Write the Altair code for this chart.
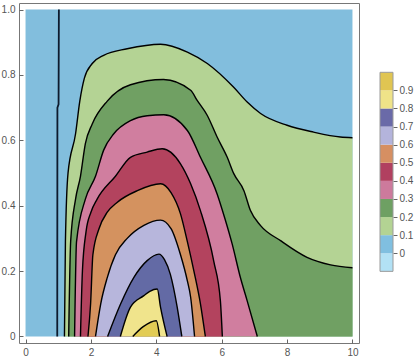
import altair as alt
import pandas as pd

# contour levels and the fill colour of the band just above each level
levels = [0.1, 0.2, 0.3, 0.4, 0.5, 0.6, 0.7, 0.8, 0.9]
fill_colors = ["#b4d394", "#70a063", "#d07e9f", "#b3435e", "#d4925f",
               "#b7b6dc", "#636aa5", "#f0e48c", "#e2cc55"]
bg_color = "#82bedd"

# contour lines (x, y)
c1_x = [1.19, 1.22, 1.30, 1.53, 1.66, 1.80, 2.04, 2.39, 3.11, 4.13, 4.95, 5.56, 6.36, 6.78, 7.19, 8.00, 8.81, 9.63, 10.0]
c1_y = [0.0, 0.29, 0.50, 0.62, 0.72, 0.79, 0.835, 0.86, 0.88, 0.894, 0.87, 0.835, 0.763, 0.717, 0.682, 0.646, 0.625, 0.61, 0.608]

c2_x = [1.32, 1.38, 1.53, 1.68, 1.83, 2.04, 2.50, 3.21, 4.22, 5.05, 5.25, 5.56, 5.86, 6.17, 6.37, 6.68, 6.88, 7.19, 7.80, 8.61, 9.33, 10.0]
c2_y = [0.0, 0.29, 0.42, 0.49, 0.59, 0.65, 0.72, 0.77, 0.786, 0.753, 0.722, 0.676, 0.61, 0.548, 0.498, 0.446, 0.385, 0.339, 0.293, 0.242, 0.219, 0.21]

c3_x = [1.50, 1.56, 1.83, 2.14, 2.39, 2.70, 3.21, 3.72, 4.23, 4.95, 5.35, 5.86, 6.10, 6.32, 6.57, 6.78, 7.09]
c3_y = [0.0, 0.29, 0.42, 0.49, 0.57, 0.62, 0.66, 0.675, 0.678, 0.63, 0.548, 0.436, 0.36, 0.283, 0.181, 0.109, 0.0]

c4_x = [1.68, 1.74, 1.85, 2.00, 2.19, 2.75, 3.21, 3.72, 4.18, 4.74, 5.05, 5.35, 5.76, 5.96, 6.02]
c4_y = [0.0, 0.20, 0.32, 0.38, 0.42, 0.49, 0.548, 0.564, 0.574, 0.528, 0.467, 0.385, 0.229, 0.109, 0.0]

c5_x = [1.91, 1.99, 2.06, 2.25, 2.50, 2.80, 3.42, 4.13, 4.45, 4.74, 4.95, 5.15, 5.35, 5.50]
c5_y = [0.0, 0.10, 0.25, 0.33, 0.38, 0.41, 0.446, 0.467, 0.44, 0.375, 0.29, 0.20, 0.10, 0.0]

c6_x = [2.14, 2.30, 2.50, 2.75, 3.11, 3.62, 4.13, 4.45, 4.74, 4.95, 5.05, 5.17]
c6_y = [0.0, 0.10, 0.18, 0.25, 0.30, 0.34, 0.356, 0.33, 0.25, 0.17, 0.12, 0.0]

c7_x = [2.51, 2.91, 3.31, 3.72, 4.08, 4.25, 4.43, 4.64, 4.78]
c7_y = [0.0, 0.10, 0.18, 0.232, 0.252, 0.235, 0.19, 0.089, 0.0]

c8_x = [2.90, 3.21, 3.62, 3.80, 4.03, 4.13, 4.33]
c8_y = [0.0, 0.09, 0.125, 0.138, 0.145, 0.089, 0.0]

c9_x = [3.28, 3.60, 4.00, 4.10]
c9_y = [0.0, 0.03, 0.048, 0.0]

# stray vertical contour near x = 1
v_x = [0.97, 0.975, 1.01, 1.02]
v_y = [0.0, 0.70, 0.71, 1.0]

curves_x = [c1_x, c2_x, c3_x, c4_x, c5_x, c6_x, c7_x, c8_x, c9_x]
curves_y = [c1_y, c2_y, c3_y, c4_y, c5_y, c6_y, c7_y, c8_y, c9_y]

# legend bands
legend_lo = [-0.1, 0.0, 0.1, 0.2, 0.3, 0.4, 0.5, 0.6, 0.7, 0.8, 0.9]
legend_hi = [0.0, 0.1, 0.2, 0.3, 0.4, 0.5, 0.6, 0.7, 0.8, 0.9, 1.0]
legend_colors = ["#b2e1f5", "#80bfe0", "#b3d393", "#6ea063", "#cd7a9c", "#b14060",
                 "#d68f62", "#b4b4dc", "#6a6aa8", "#efe388", "#e0c552"]

x_ticks = [0, 2, 4, 6, 8, 10]
y_ticks = [0, 0.2, 0.4, 0.6, 0.8, 1.0]
legend_ticks = [0, 0.1, 0.2, 0.3, 0.4, 0.5, 0.6, 0.7, 0.8, 0.9]

FONT = "Liberation Sans"
LABEL = "#555555"
TICK = "#666666"
lab_expr = "datum.value == 0 ? '0' : format(datum.value, '.1f')"

xs = alt.Scale(domain=[-0.2, 10.2], nice=False, zero=False)
ys = alt.Scale(domain=[-0.02, 1.02], nice=False, zero=False)
xaxis = alt.Axis(values=x_ticks, domain=False, grid=False, offset=-4, tickSize=4,
                 tickColor=TICK, labelColor=LABEL, labelFont=FONT, labelFontSize=10,
                 labelPadding=4, labelFlush=False, title=None)
yaxis = alt.Axis(values=y_ticks, domain=False, grid=False, offset=-4, tickSize=4,
                 tickColor=TICK, labelColor=LABEL, labelFont=FONT, labelFontSize=10,
                 labelPadding=4, labelFlush=False, title=None, labelExpr=lab_expr)

bg_df = pd.DataFrame({"x0": [0.0], "x1": [10.0], "y0": [0.0], "y1": [1.0]})
background = alt.Chart(bg_df).mark_rect(color=bg_color).encode(
    x=alt.X("x0:Q", scale=xs, axis=xaxis),
    x2="x1:Q",
    y=alt.Y("y0:Q", scale=ys, axis=yaxis),
    y2="y1:Q",
)

layers = [background]
for lev, cx, cy, col in zip(levels, curves_x, curves_y, fill_colors):
    df = pd.DataFrame({"x": cx, "y": cy, "base": [0.0] * len(cx)})
    area = alt.Chart(df).mark_area(interpolate="monotone", color=col).encode(
        x=alt.X("x:Q", scale=xs, axis=xaxis),
        y=alt.Y("y:Q", scale=ys, axis=yaxis),
        y2="base:Q",
    )
    line = alt.Chart(df).mark_line(interpolate="monotone", color="black", strokeWidth=1.4).encode(
        x=alt.X("x:Q", scale=xs, axis=xaxis),
        y=alt.Y("y:Q", scale=ys, axis=yaxis),
    )
    layers += [area, line]

v_df = pd.DataFrame({"x": v_x, "y": v_y, "o": list(range(len(v_x)))})
vline = alt.Chart(v_df).mark_line(color="#0d1b2e", strokeWidth=1.8).encode(
    x=alt.X("x:Q", scale=xs, axis=xaxis),
    y=alt.Y("y:Q", scale=ys, axis=yaxis),
    order="o:Q",
)
layers.append(vline)

main = alt.layer(*layers).properties(
    width=340, height=340,
    view=alt.ViewBackground(stroke="#777777", strokeWidth=1),
)

# ----- legend bar -----
lys = alt.Scale(domain=[-0.496, 1.383], nice=False, zero=False)
lxs = alt.Scale(domain=[0, 1], nice=False, zero=False)
leg_df = pd.DataFrame({"lo": legend_lo, "hi": legend_hi, "c": legend_colors,
                       "xa": [0.0] * len(legend_lo), "xb": [1.0] * len(legend_lo)})
leg_axis = alt.Axis(values=legend_ticks, orient="right", domain=False, grid=False,
                    tickSize=4, tickColor=TICK, labelColor=LABEL, labelFont=FONT,
                    labelFontSize=10, labelPadding=2, labelFlush=False, title=None,
                    labelExpr=lab_expr)
bands = alt.Chart(leg_df).mark_rect().encode(
    x=alt.X("xa:Q", scale=lxs, axis=None),
    x2="xb:Q",
    y=alt.Y("lo:Q", scale=lys, axis=leg_axis),
    y2="hi:Q",
    color=alt.Color("c:N", scale=None),
)
out_df = pd.DataFrame({"lo": [legend_lo[0]], "hi": [legend_hi[-1]], "xa": [0.0], "xb": [1.0]})
outline = alt.Chart(out_df).mark_rect(fillOpacity=0, stroke="#9a9a9a", strokeWidth=1).encode(
    x=alt.X("xa:Q", scale=lxs, axis=None),
    x2="xb:Q",
    y=alt.Y("lo:Q", scale=lys, axis=leg_axis),
    y2="hi:Q",
)
legend = alt.layer(bands, outline).properties(width=13, height=340)

chart = alt.hconcat(main, legend, spacing=21, bounds="flush").properties(
    padding={"left": 0, "top": 2, "right": 5, "bottom": 5},
    background="white",
).configure_view(stroke=None)

chart.save("out.html", embed_options={"renderer": "svg", "actions": False})
